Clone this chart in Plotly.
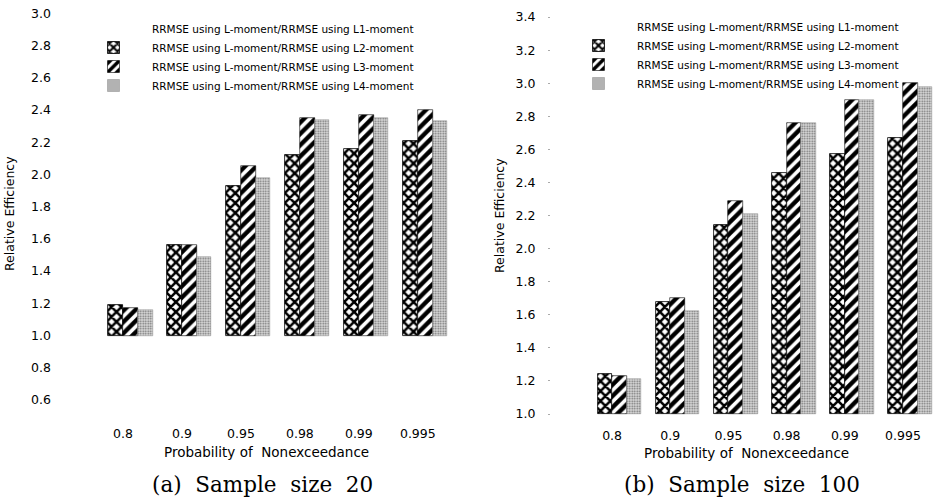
import plotly.graph_objects as go

categories = ["0.8", "0.9", "0.95", "0.98", "0.99", "0.995"]
series_names = [
    "RRMSE using L-moment/RRMSE using L1-moment",
    "RRMSE using L-moment/RRMSE using L2-moment",
    "RRMSE using L-moment/RRMSE using L3-moment",
    "RRMSE using L-moment/RRMSE using L4-moment",
]

# (a) Sample size 20
a_L1 = [1.0, 1.0, 1.0, 1.0, 1.0, 1.0]
a_L2 = [1.19, 1.56, 1.93, 2.12, 2.16, 2.21]
a_L3 = [1.17, 1.56, 2.05, 2.35, 2.37, 2.40]
a_L4 = [1.16, 1.49, 1.98, 2.34, 2.35, 2.33]

# (b) Sample size 100
b_L1 = [1.0, 1.0, 1.0, 1.0, 1.0, 1.0]
b_L2 = [1.24, 1.68, 2.14, 2.46, 2.57, 2.67]
b_L3 = [1.23, 1.70, 2.29, 2.76, 2.90, 3.00]
b_L4 = [1.21, 1.62, 2.21, 2.76, 2.90, 2.98]

BASE = 1.0
FONT = "DejaVu Sans"

styles = [
    dict(color="white", line=dict(width=0)),
    dict(color="white", line=dict(width=0.8, color="black"),
         pattern=dict(shape="x", fgcolor="black", bgcolor="white", fgopacity=1,
                      size=7, solidity=0.6)),
    dict(color="white", line=dict(width=0.6, color="black"),
         pattern=dict(shape="/", fgcolor="black", bgcolor="white", fgopacity=1,
                      size=8, solidity=0.55)),
    dict(color="#d0d0d0", line=dict(width=0.5, color="#888"),
         pattern=dict(shape=".", fgcolor="#707070", bgcolor="#dcdcdc", fgopacity=1,
                      size=2.5, solidity=0.4)),
]

fig = go.Figure()

panels = [
    ([a_L1, a_L2, a_L3, a_L4], "x", "y", "legend"),
    ([b_L1, b_L2, b_L3, b_L4], "x2", "y2", "legend2"),
]
for data, xa, ya, lg in panels:
    for name, vals, st in zip(series_names, data, styles):
        fig.add_trace(go.Bar(
            x=categories, y=[v - BASE for v in vals], base=BASE,
            name=name, marker=st, xaxis=xa, yaxis=ya, legend=lg,
            hoverinfo="skip",
        ))

W, H = 935, 501
def px_x(p): return p / W
def px_y(p): return 1 - p / H

tickfont = dict(family=FONT, size=12.5, color="black")
axis_common = dict(showgrid=False, zeroline=False, showline=False, automargin=False)

fig.update_layout(
    width=W, height=H,
    margin=dict(l=0, r=0, t=0, b=0, pad=0, autoexpand=False),
    paper_bgcolor="white", plot_bgcolor="white",
    barmode="group", bargap=0, bargroupgap=0,
    showlegend=True,
    xaxis=dict(domain=[px_x(67), px_x(465)], type="category", range=[-0.95, 5.8],
               tickfont=tickfont, ticks="", ticklabelstandoff=8, anchor="y", **axis_common),
    yaxis=dict(domain=[px_y(416), px_y(5)], range=[0.5, 0.5 + 411 / 161.0],
               tickvals=[0.6, 0.8, 1.0, 1.2, 1.4, 1.6, 1.8, 2.0, 2.2, 2.4, 2.6, 2.8, 3.0],
               tickformat=".1f", tickfont=tickfont, ticks="", ticklabelstandoff=15,
               anchor="x", **axis_common),
    xaxis2=dict(domain=[px_x(551), 1.0], type="category", range=[-1.05, 5.55],
                tickfont=tickfont, ticks="", ticklabelstandoff=10, anchor="y2", **axis_common),
    yaxis2=dict(domain=[px_y(416), px_y(5)], range=[0.988, 0.988 + 411 / 165.4],
                tickvals=[1.0, 1.2, 1.4, 1.6, 1.8, 2.0, 2.2, 2.4, 2.6, 2.8, 3.0, 3.2, 3.4],
                tickformat=".1f", tickfont=tickfont, ticks="outside", ticklen=2,
                tickcolor="#aaaaaa", ticklabelstandoff=10, anchor="x2", **axis_common),
    legend=dict(x=px_x(75), y=px_y(14), xanchor="left", yanchor="top",
                font=dict(family=FONT, size=10.5, color="black"),
                itemwidth=67, tracegroupgap=0, bgcolor="rgba(0,0,0,0)",
                itemclick=False, itemdoubleclick=False),
    legend2=dict(x=px_x(560), y=px_y(12), xanchor="left", yanchor="top",
                 font=dict(family=FONT, size=10.5, color="black"),
                 itemwidth=67, tracegroupgap=0, bgcolor="rgba(0,0,0,0)",
                 itemclick=False, itemdoubleclick=False),
)

annots = [
    dict(text="Relative Efficiency", x=px_x(10), y=px_y(214), textangle=-90,
         font=dict(family=FONT, size=12.5)),
    dict(text="Relative Efficiency", x=px_x(499), y=px_y(216), textangle=-90,
         font=dict(family=FONT, size=12.5)),
    dict(text="Probability of\u00a0 Nonexceedance", x=px_x(266), y=px_y(452),
         font=dict(family=FONT, size=13.5)),
    dict(text="Probability of\u00a0 Nonexceedance", x=px_x(746), y=px_y(453),
         font=dict(family=FONT, size=13.5)),
    dict(text="(a)\u00a0 Sample\u00a0 size\u00a0 20", x=px_x(262), y=px_y(484),
         font=dict(family="DejaVu Serif", size=21.5)),
    dict(text="(b)\u00a0 Sample\u00a0 size\u00a0 100", x=px_x(742), y=px_y(484),
         font=dict(family="DejaVu Serif", size=21.5)),
]
for a in annots:
    a.update(xref="paper", yref="paper", showarrow=False, xanchor="center", yanchor="middle")
    a["font"]["color"] = "black"
fig.update_layout(annotations=annots)

fig.write_html(
    "out.html",
    config={"displayModeBar": False},
    post_script="document.body.style.margin='0';document.body.style.overflow='hidden';",
)
